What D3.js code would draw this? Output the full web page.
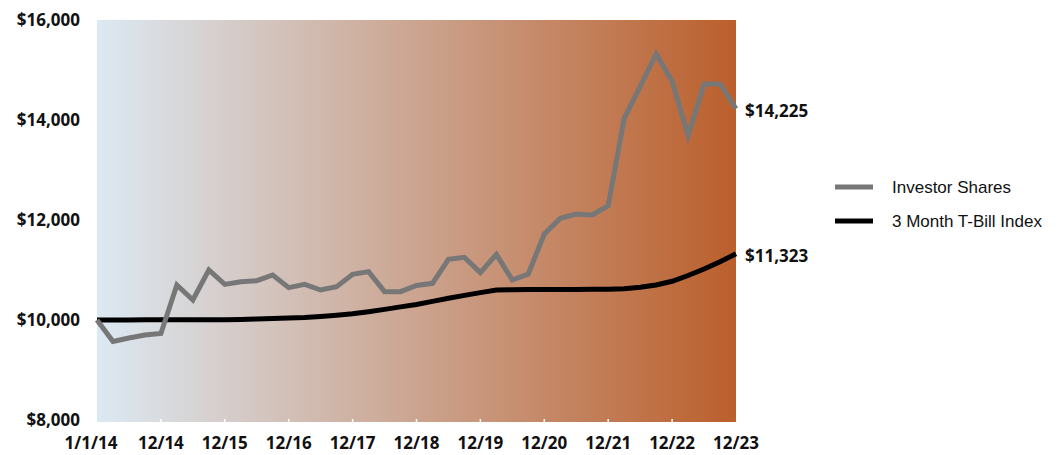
<!DOCTYPE html>
<html>
<head>
<meta charset="utf-8">
<script src="https://cdn.jsdelivr.net/npm/d3@7"></script>
<style>
  body { margin: 0; background: #fff; }
  .axis-label { font-family: "Open Sans", sans-serif; font-weight: 700; font-size: 17px; fill: #111; }
  .legend-label { font-family: "Liberation Sans", Arial, sans-serif; font-size: 17px; fill: #111; }
</style>
</head>
<body>
<svg id="chart"></svg>
<script>
// quarterly points, 1/1/14 .. 12/23
const investor = [10000, 9570, 9640, 9700, 9730, 10700, 10400, 11000, 10713, 10766,
  10786, 10900, 10647, 10713, 10600, 10667, 10913, 10967, 10567, 10567,
  10690, 10733, 11213, 11253, 10947, 11313, 10800, 10920, 11720, 12033,
  12120, 12100, 12287, 14033, 14667, 15320, 14780, 13687, 14720, 14720, 14225];

const tbill = [10000, 10001, 10002, 10003, 10003, 10003, 10004, 10004, 10005, 10012,
  10020, 10028, 10038, 10050, 10070, 10095, 10124, 10165, 10212, 10262,
  10310, 10372, 10434, 10492, 10548, 10600, 10605, 10608, 10610, 10611,
  10612, 10613, 10615, 10625, 10655, 10700, 10775, 10890, 11020, 11165, 11323];

const x_ticks = [0, 4, 8, 12, 16, 20, 24, 28, 32, 36, 40];
const x_tick_labels = ["1/1/14", "12/14", "12/15", "12/16", "12/17", "12/18", "12/19", "12/20", "12/21", "12/22", "12/23"];
const y_ticks = [8000, 10000, 12000, 14000, 16000];

const series = [
  { name: "Investor Shares", values: investor, color: "#777777", end_label: "$14,225" },
  { name: "3 Month T-Bill Index", values: tbill, color: "#000000", end_label: "$11,323" }
];

const width = 1059, height = 455;
const svg = d3.select("#chart").attr("width", width).attr("height", height);

const x = d3.scaleLinear().domain([0, 40]).range([97, 736]);
const y = d3.scaleLinear().domain([8000, 16000]).range([420, 20]);

const defs = svg.append("defs");
const grad = defs.append("linearGradient").attr("id", "bg_grad")
  .attr("x1", "0%").attr("x2", "100%").attr("y1", "0%").attr("y2", "0%");
grad.append("stop").attr("offset", "0%").attr("stop-color", "#dce9f3");
grad.append("stop").attr("offset", "100%").attr("stop-color", "#bb5f2c");

svg.append("rect")
  .attr("x", x(0)).attr("y", y(16000))
  .attr("width", x(40) - x(0)).attr("height", y(8000) - y(16000) + 2)
  .attr("fill", "url(#bg_grad)");

// little white ticks on the bottom edge
svg.append("g").selectAll("line")
  .data(x_ticks.slice(1, -1))
  .join("line")
  .attr("x1", d => x(d)).attr("x2", d => x(d))
  .attr("y1", y(8000) - 1).attr("y2", y(8000) + 2)
  .attr("stroke", "#fff").attr("stroke-width", 1.5);

// y axis labels
svg.append("g").selectAll("text")
  .data(y_ticks)
  .join("text")
  .attr("class", "axis-label")
  .attr("x", 80)
  .attr("y", d => y(d))
  .attr("dy", "0.35em")
  .attr("text-anchor", "end")
  .text(d => "$" + d3.format(",")(d));

// x axis labels
svg.append("g").selectAll("text")
  .data(x_ticks)
  .join("text")
  .attr("class", "axis-label")
  .attr("x", d => x(d))
  .attr("dx", (d, i) => i == 0 ? -6 : 0)
  .attr("y", 449)
  .attr("text-anchor", "middle")
  .text((d, i) => x_tick_labels[i]);

const line = d3.line()
  .x((d, i) => x(i))
  .y(d => y(d));

// draw tbill first, then investor on top
[series[1], series[0]].forEach(s => {
  svg.append("path")
    .datum(s.values)
    .attr("d", line)
    .attr("fill", "none")
    .attr("stroke", s.color)
    .attr("stroke-width", 5)
    .attr("stroke-linejoin", "miter");

  svg.append("text")
    .attr("class", "axis-label")
    .attr("x", x(40) + 9)
    .attr("y", y(s.values[s.values.length - 1]) + 2)
    .attr("dy", "0.35em")
    .text(s.end_label);
});

// legend
const legend = svg.append("g").selectAll("g")
  .data(series)
  .join("g")
  .attr("transform", (d, i) => "translate(835," + (187 + i * 34) + ")");

legend.append("line")
  .attr("x1", 0).attr("x2", 38)
  .attr("stroke", d => d.color)
  .attr("stroke-width", 5);

legend.append("text")
  .attr("class", "legend-label")
  .attr("x", 57)
  .attr("dy", "0.35em")
  .text(d => d.name);
</script>
</body>
</html>
